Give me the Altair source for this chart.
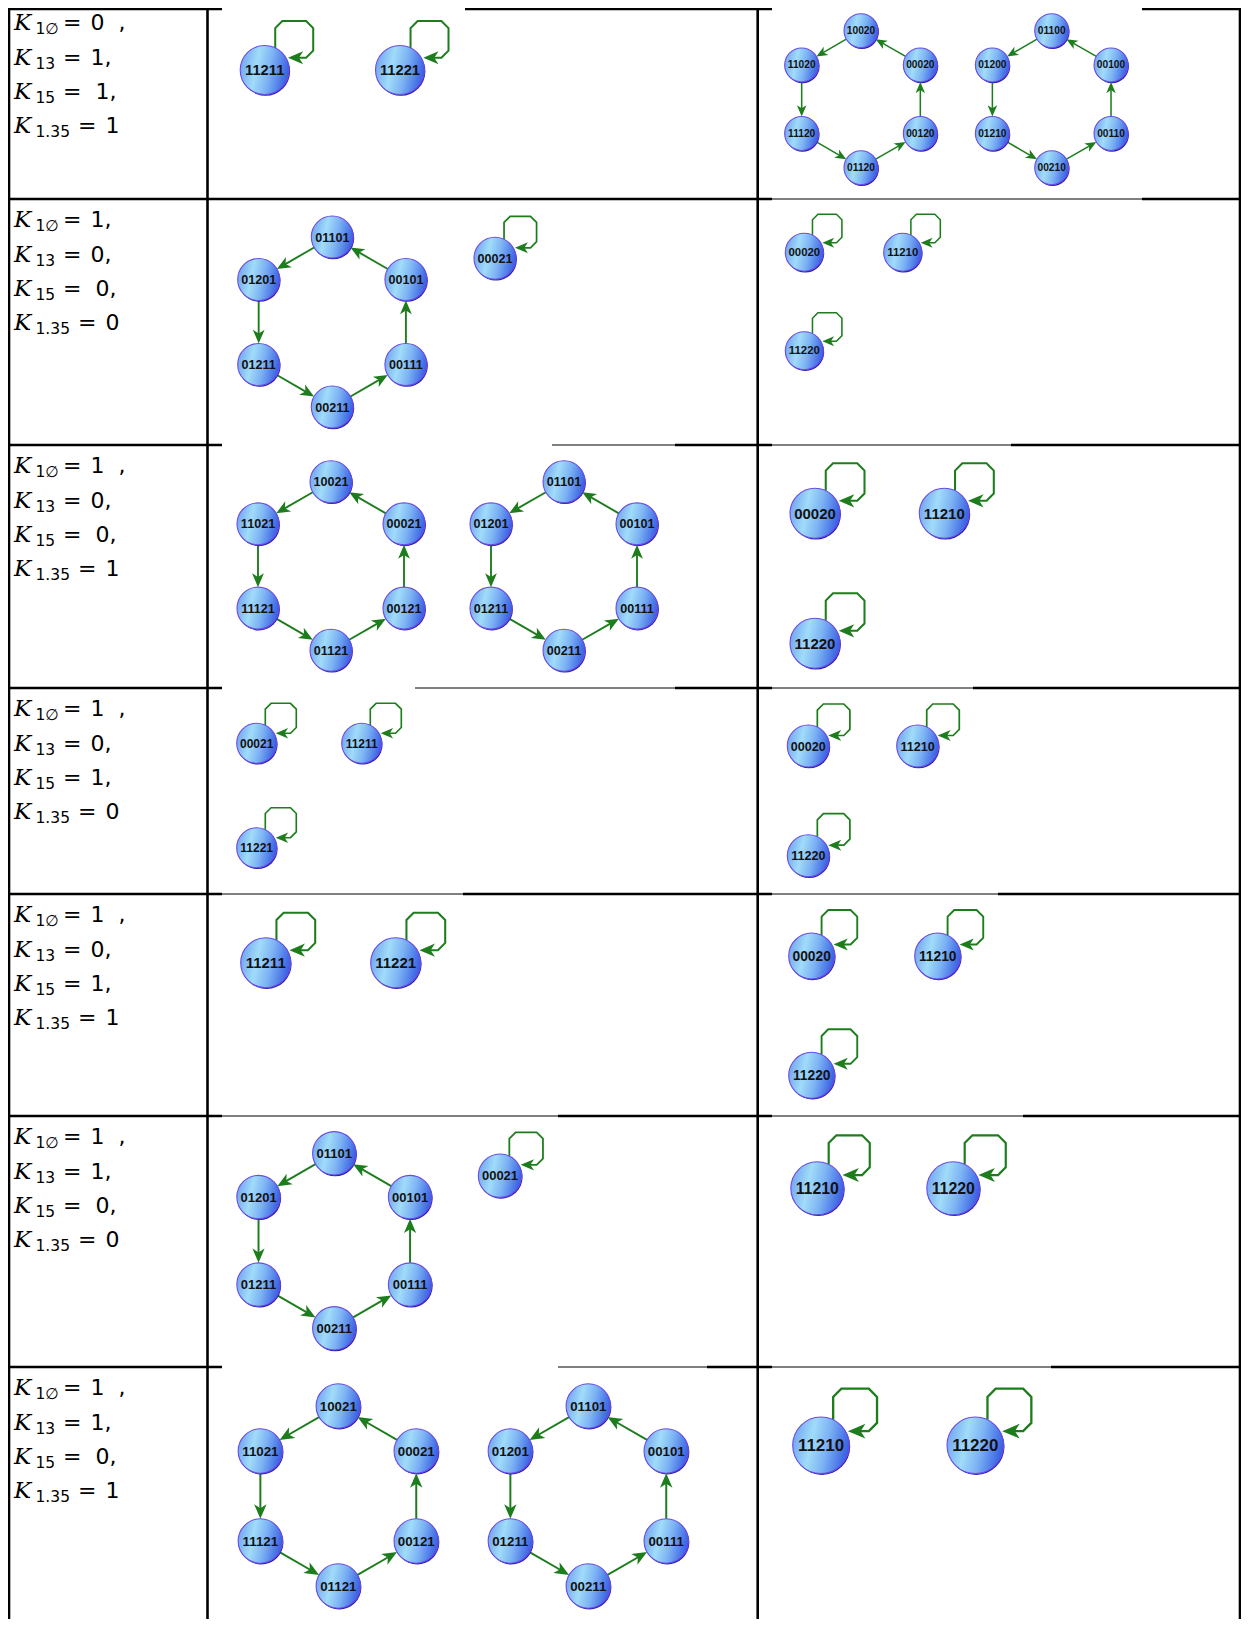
import math
import altair as alt
import pandas as pd

# ------------------------------------------------------------------ data
K_SUBSCRIPTS = ["1∅", "13", "15", "1.35"]
K_VALUES = [
    ["0 ,", "1,", " 1,", "1"],
    ["1,", "0,", " 0,", "0"],
    ["1 ,", "0,", " 0,", "1"],
    ["1 ,", "0,", "1,", "0"],
    ["1 ,", "0,", "1,", "1"],
    ["1 ,", "1,", " 0,", "0"],
    ["1 ,", "1,", " 0,", "1"],
]

# 6-cycles, listed in the order of the arrows (top, upper-left, lower-left,
# bottom, lower-right, upper-right, back to top)
CYCLE_A = ["10020", "11020", "11120", "01120", "00120", "00020"]
CYCLE_B = ["01100", "01200", "01210", "00210", "00110", "00100"]
CYCLE_C = ["01101", "01201", "01211", "00211", "00111", "00101"]
CYCLE_D = ["10021", "11021", "11121", "01121", "00121", "00021"]
CYCLES = [CYCLE_A, CYCLE_B, CYCLE_C, CYCLE_D, CYCLE_C, CYCLE_C, CYCLE_D, CYCLE_C]

# fixed points (self loops), row by row
FIXED_POINTS = [
    "11211", "11221",
    "00021",
    "00020", "11210", "11220",
    "00020", "11210", "11220",
    "00021", "11211", "11221",
    "00020", "11210", "11220",
    "11211", "11221",
    "00020", "11210", "11220",
    "00021",
    "11210", "11220",
    "11210", "11220",
]

# ------------------------------------------------------------------ layout
# the plot area shows the picture's pixels 8..1241 x 8..1619 one to one
X0, Y0 = 8, 8
W, H = 1233, 1611
XMIN, XMAX = X0 + 1, X0 + W - 1
YMIN, YMAX = Y0 + 1, Y0 + H

ROW_LINES = [2, 199, 445, 688, 894, 1116, 1367]
COL_LINES = [1, 207.5, 757.7, 1248]
TABLE_BOTTOM = 1627
THICK, THIN = 2.3, 1.0
# (y, x1, x2, kind) kind 0: hidden under a picture, 1: thin
BORDER_PATCHES = [
    (2, 222, 465, 0), (2, 772, 1142, 0),
    (199, 772, 1142, 1),
    (445, 222, 552, 0), (445, 552, 675, 1), (445, 772, 1011, 1),
    (688, 222, 415, 0), (688, 415, 675, 1), (688, 772, 973, 1),
    (894, 222, 463, 1), (894, 772, 998, 1),
    (1116, 222, 558, 1), (1116, 772, 1023, 1),
    (1367, 222, 558, 0), (1367, 558, 707, 1), (1367, 772, 1051, 1),
]

CYCLE_LAYOUT = [  # cx, cy, R, node radius
    (861, 99.2, 68.5, 17), (1051.7, 99.2, 68.5, 17),
    (332.3, 322, 85, 21),
    (331, 566, 84.3, 21), (564, 566, 84.3, 21),
    (334.3, 1240.8, 87.5, 21.7),
    (338.3, 1496, 90, 22.2), (588.3, 1496, 90, 22.2),
]
LOOP_LAYOUT = [
    (264.7, 70, 24.5), (400, 70, 24.5),
    (495, 258.3, 21),
    (804.3, 252.3, 19), (902.7, 252.3, 19), (804.3, 350.7, 19),
    (815, 513.3, 25), (944.3, 513.3, 25), (815, 643.3, 25),
    (256.7, 743.3, 20), (361.7, 743.3, 20), (256.7, 847.7, 20),
    (808.3, 746, 21), (917.7, 746, 21), (808.3, 855.7, 21),
    (265.7, 962.7, 25), (395.7, 962.7, 25),
    (811.7, 956, 23), (937.7, 956, 23), (811.7, 1075.3, 23),
    (500, 1175.7, 21.7),
    (817.3, 1188.3, 26.5), (953.3, 1188.3, 26.5),
    (821, 1445.3, 28.3), (975.3, 1445.3, 28.3),
]
HEX_ANGLES = [90, 150, 210, 270, 330, 30]
C = 0.29
LOOP_SHAPE = [(0.43, -0.9), (0.43, -2 + C), (0.43 + C, -2.0), (1.98 - C, -2.0),
              (1.98, -2 + C), (1.98, -0.5 - C), (1.98 - C, -0.5), (1.3, -0.5)]
LOOP_TIP = (0.95, -0.5)

GREEN = "#1d7d1d"
ARROW_PATH = "M0,0L-2,-0.85L-1.45,0L-2,0.85Z"

# ------------------------------------------------------------------ build tables
nodes, edges, heads, loops = [], [], [], []

def add_node(x, y, r, label):
    nodes.append({"x": x, "y": y, "sz": (2 * r) ** 2, "fs": 0.6 * r, "label": label})

for labels, (cx, cy, R, r) in zip(CYCLES, CYCLE_LAYOUT):
    pts = [(cx + R * math.cos(math.radians(a)), cy - R * math.sin(math.radians(a))) for a in HEX_ANGLES]
    for lab, (px, py) in zip(labels, pts):
        add_node(px, py, r, lab)
    L = 0.66 * r
    for i in range(6):
        (sx, sy), (tx, ty) = pts[i], pts[(i + 1) % 6]
        d = math.hypot(tx - sx, ty - sy)
        ux, uy = (tx - sx) / d, (ty - sy) / d
        tipx, tipy = tx - ux * r, ty - uy * r
        edges.append({"x": sx + ux * r, "y": sy + uy * r,
                      "x2": tipx - ux * 0.6 * L, "y2": tipy - uy * 0.6 * L,
                      "w": 0.09 * r})
        heads.append({"x": tipx, "y": tipy, "ang": math.degrees(math.atan2(uy, ux)) % 360,
                      "sz": L ** 2})

for lid, (lab, (cx, cy, r)) in enumerate(zip(FIXED_POINTS, LOOP_LAYOUT)):
    add_node(cx, cy, r, lab)
    for i, (px, py) in enumerate(LOOP_SHAPE):
        loops.append({"x": cx + px * r, "y": cy + py * r, "i": i, "lid": lid, "w": 0.082 * r})
    heads.append({"x": cx + LOOP_TIP[0] * r, "y": cy + LOOP_TIP[1] * r, "ang": 180,
                  "sz": (0.62 * r) ** 2})

# table borders (clamped into the visible frame)
cx_ = lambda v: min(max(v, XMIN), XMAX)
cy_ = lambda v: min(max(v, YMIN), YMAX)
borders = []
for y in ROW_LINES:
    cuts = sorted({COL_LINES[0], COL_LINES[-1]} |
                  {p[1] for p in BORDER_PATCHES if p[0] == y} |
                  {p[2] for p in BORDER_PATCHES if p[0] == y})
    for a, b in zip(cuts[:-1], cuts[1:]):
        kind = 2
        for (py, x1, x2, k) in BORDER_PATCHES:
            if py == y and x1 <= a and b <= x2:
                kind = k
        if kind == 0:
            continue
        borders.append({"x1": cx_(a), "x2": cx_(b), "y1": cy_(y), "y2": cy_(y),
                        "w": THICK if kind == 2 else THIN})
for x in COL_LINES:
    borders.append({"x1": cx_(x), "x2": cx_(x), "y1": cy_(ROW_LINES[0]) - 1, "y2": cy_(TABLE_BOTTOM),
                    "w": THICK + 0.3})

# left column texts
ktxt, subtxt, eqtxt, valtxt = [], [], [], []
for row, vals in enumerate(K_VALUES):
    for i, (sub, val) in enumerate(zip(K_SUBSCRIPTS, vals)):
        base = ROW_LINES[row] + 28.3 + 34.3 * i
        eq_x = 63 if len(sub) <= 2 else 78
        lead = len(val) - len(val.lstrip())
        ktxt.append({"x": 14, "y": base, "t": "K"})
        subtxt.append({"x": 35.5, "y": base + 4, "t": sub})
        eqtxt.append({"x": eq_x, "y": base, "t": "="})
        valtxt.append({"x": eq_x + 27.5 + 5 * lead, "y": base,
                       "t": val.strip().replace(" ", "\u00a0\u00a0")})

# ------------------------------------------------------------------ chart
xs = alt.Scale(domain=[X0, X0 + W], nice=False, zero=False)
ys = alt.Scale(domain=[Y0, Y0 + H], nice=False, zero=False, reverse=True)
X = lambda f: alt.X(f, type="quantitative", scale=xs, axis=None)
Y = lambda f: alt.Y(f, type="quantitative", scale=ys, axis=None)

border_layer = alt.Chart(pd.DataFrame(borders)).mark_rule(color="black", strokeCap="butt").encode(
    x=X("x1"), x2=alt.X2("x2"), y=Y("y1"), y2=alt.Y2("y2"), size=alt.Size("w:Q", scale=None))

loop_layer = alt.Chart(pd.DataFrame(loops)).mark_line(color=GREEN, strokeJoin="miter", strokeCap="butt").encode(
    x=X("x"), y=Y("y"), detail="lid:N", order="i:Q", size=alt.Size("w:Q", scale=None))

edge_layer = alt.Chart(pd.DataFrame(edges)).mark_rule(color=GREEN).encode(
    x=X("x"), x2=alt.X2("x2"), y=Y("y"), y2=alt.Y2("y2"), size=alt.Size("w:Q", scale=None))

node_df = pd.DataFrame(nodes)
grad = alt.LinearGradient(
    gradient="linear", x1=0, y1=0.4, x2=1, y2=0.6,
    stops=[alt.GradientStop(color="#74a6f1", offset=0),
           alt.GradientStop(color="#a0dcf9", offset=0.32),
           alt.GradientStop(color="#7cb2f4", offset=0.6),
           alt.GradientStop(color="#4570e6", offset=0.9),
           alt.GradientStop(color="#3a58e0", offset=1)])

shadow_layer = alt.Chart(node_df).mark_point(
    filled=True, shape="circle", fill="#2c18b8", opacity=1, xOffset=0.9, yOffset=1.3).encode(
    x=X("x"), y=Y("y"), size=alt.Size("sz:Q", scale=None))

node_layer = alt.Chart(node_df).mark_point(
    filled=True, shape="circle", fill=grad, stroke="#6b4ce2", strokeWidth=1.1, opacity=1).encode(
    x=X("x"), y=Y("y"), size=alt.Size("sz:Q", scale=None))

label_layer = alt.Chart(node_df).mark_text(
    font="Liberation Sans", fontWeight="bold", color="#121212", align="center", baseline="middle", dy=0.5).encode(
    x=X("x"), y=Y("y"), text="label:N", size=alt.Size("fs:Q", scale=None))

head_layer = alt.Chart(pd.DataFrame(heads)).mark_point(
    filled=True, shape=ARROW_PATH, fill=GREEN, opacity=1, strokeWidth=0).encode(
    x=X("x"), y=Y("y"), angle=alt.Angle("ang:Q", scale=None), size=alt.Size("sz:Q", scale=None))

def text_layer(rows, **kw):
    return alt.Chart(pd.DataFrame(rows)).mark_text(
        align="left", baseline="alphabetic", color="black", **kw).encode(
        x=X("x"), y=Y("y"), text="t:N")

k_layer = text_layer(ktxt, font="DejaVu Serif", fontStyle="italic", fontSize=23)
sub_layer = text_layer(subtxt, font="DejaVu Sans", fontSize=15.5)
eq_layer = text_layer(eqtxt, font="DejaVu Sans", fontSize=22)
val_layer = text_layer(valtxt, font="DejaVu Sans", fontSize=22)

chart = alt.layer(
    border_layer, loop_layer, edge_layer, shadow_layer, node_layer, label_layer, head_layer,
    k_layer, sub_layer, eq_layer, val_layer,
).properties(
    width=W, height=H, padding=0, autosize=alt.AutoSizeParams(type="none"),
).configure_view(stroke=None)

chart.save("out.html", embed_options={"renderer": "svg", "actions": False})
